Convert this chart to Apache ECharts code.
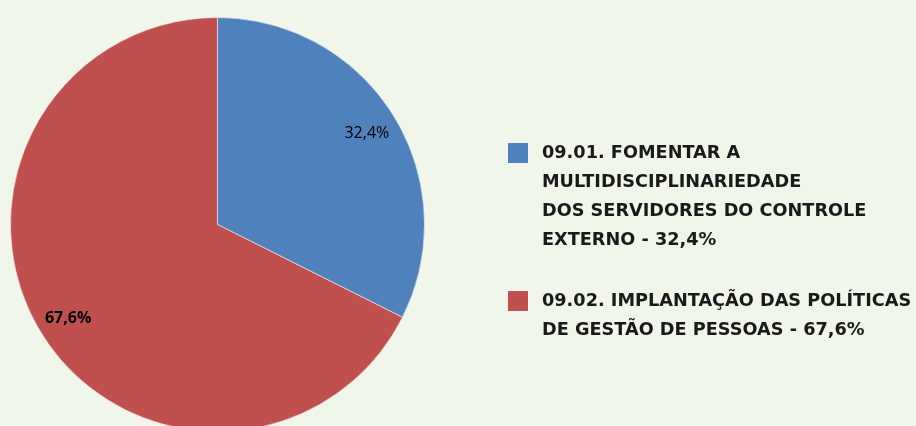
<!DOCTYPE html>
<html>
<head>
<meta charset="utf-8">
<script src="https://cdn.jsdelivr.net/npm/echarts@6/dist/echarts.min.js"></script>
<style>
  html, body { margin: 0; padding: 0; background: #F0F6EA; }
  #chart { width: 916px; height: 426px; }
</style>
</head>
<body>
<div id="chart"></div>
<script>
    // categorias e valores (%)
    var categories = [
        '09.01. FOMENTAR A MULTIDISCIPLINARIEDADE DOS SERVIDORES DO CONTROLE EXTERNO',
        '09.02. IMPLANTAÇÃO DAS POLÍTICAS DE GESTÃO DE PESSOAS'
    ];
    var values = [32.4, 67.6];
    // quebras de linha da legenda
    var legendLines = [
        ['09.01. FOMENTAR A', 'MULTIDISCIPLINARIEDADE', 'DOS SERVIDORES DO CONTROLE', 'EXTERNO'],
        ['09.02. IMPLANTAÇÃO DAS POLÍTICAS', 'DE GESTÃO DE PESSOAS']
    ];
    var colors = ['#4F81BD', '#C0504D'];

    function pct(v) {
        return v.toFixed(1).replace('.', ',') + '%';
    }

    var LINE_H = 29;
    var ICON = 22;
    var iconTops = [142, 290];

    var pieData = categories.map(function (name, i) {
        return { name: name, value: values[i], itemStyle: { color: colors[i] } };
    });

    // o texto da legenda fica centrado no ícone; linhas vazias antes
    // empurram a primeira linha para a altura do ícone
    var legends = categories.map(function (name, i) {
        var n = legendLines[i].length;
        var blockH = (2 * n - 1) * LINE_H;
        return {
            left: 506,
            top: iconTops[i] + ICON / 2 - blockH / 2,
            padding: 0,
            orient: 'vertical',
            selectedMode: false,
            itemWidth: ICON,
            itemHeight: ICON,
            icon: 'rect',
            data: [name],
            formatter: function () {
                var lines = legendLines[i].slice();
                lines[lines.length - 1] += ' - ' + pct(values[i]);
                var blank = [];
                for (var k = 0; k < n - 1; k++) blank.push(' ');
                return blank.concat(lines).join('\n');
            },
            textStyle: {
                fontFamily: 'DejaVu Sans',
                fontWeight: 'bold',
                fontSize: 17.7,
                lineHeight: LINE_H,
                color: '#1a1a1a',
                padding: [0, 0, 0, 8]
            }
        };
    });

    var chart = echarts.init(document.getElementById('chart'));
    var option = {
        backgroundColor: '#F0F6EA',
        animation: false,
        legend: legends,
        series: [{
            type: 'pie',
            center: [217.5, 224.5],
            radius: 207,
            startAngle: 90,
            silent: true,
            label: { show: false },
            labelLine: { show: false },
            itemStyle: { borderColor: '#f4f4f4', borderWidth: 0.6 },
            data: pieData
        }, {
            // só os rótulos, a ~85% do raio
            type: 'pie',
            center: [217.5, 226],
            radius: [138, 207],
            startAngle: 90,
            silent: true,
            itemStyle: { color: 'rgba(0,0,0,0)' },
            labelLine: { show: false },
            label: {
                show: true,
                position: 'inside',
                fontFamily: 'Open Sans',
                fontSize: 16,
                color: '#000',
                formatter: function (p) { return pct(p.value); }
            },
            data: categories.map(function (name, i) {
                return {
                    name: name,
                    value: values[i],
                    label: { fontWeight: i === 1 ? 'bold' : 'normal' }
                };
            })
        }]
    };
    chart.setOption(option);
</script>
</body>
</html>
